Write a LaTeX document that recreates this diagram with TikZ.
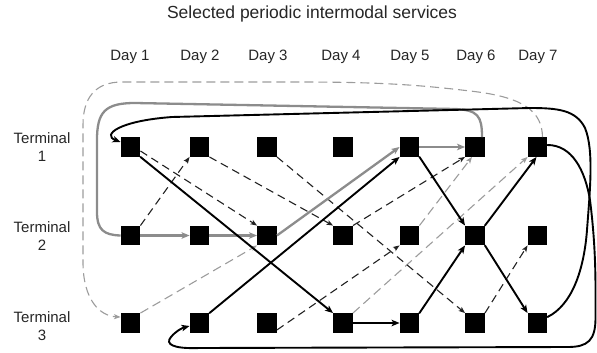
\documentclass[tikz,border=0pt]{standalone}
\usepackage{fontspec}
\setmainfont{Liberation Sans}
\usetikzlibrary{arrows.meta}

\definecolor{solidgray}{HTML}{8C8C8C}
\definecolor{dashgray}{HTML}{9C9C9C}
\definecolor{dashdark}{HTML}{222222}

\tikzset{
  slot/.style={fill=black, draw=none, minimum size=19.5pt, inner sep=0pt},
  lbl/.style={font=\fontsize{15}{18}\selectfont, text=black!85, align=center, inner sep=0pt},
  ttl/.style={font=\fontsize{17.5}{20}\selectfont, text=black!85, inner sep=0pt},
  bigtip/.style={-{Stealth[length=8pt,width=6.5pt,inset=2pt]}},
  smalltip/.style={-{Stealth[length=6.5pt,width=5pt,inset=1.5pt]}},
  blackline/.style={draw=black, line width=1.9pt, line cap=round},
  grayline/.style={draw=solidgray, line width=2.3pt},
  darkdash/.style={draw=dashdark, line width=1.1pt, dash pattern=on 8pt off 5pt},
  graydash/.style={draw=dashgray, line width=1.1pt, dash pattern=on 9pt off 5pt},
}

\begin{document}
\begin{tikzpicture}[x=1pt, y=-1pt]
\useasboundingbox (0,0) rectangle (597,353);

% title and axis labels
\node[ttl] (title) at (312,14) {Selected periodic intermodal services};
\foreach \d/\x in {1/130, 2/200, 3/268, 4/341, 5/410, 6/476, 7/538}
  \node[lbl] (day\d) at (\x,57) {Day \d};
\foreach \r/\y in {1/147, 2/236, 3/326}
  \node[lbl] (term\r) at (42,\y) {Terminal\\\r};

% time-space grid of terminal slots
\foreach \r/\y in {1/147, 2/235.5, 3/323}
  \foreach \c/\x in {1/130.5, 2/199.5, 3/267, 4/343, 5/409.5, 6/475, 7/537.5}
    \node[slot] (t\r-\c) at (\x,\y) {};

% light dashed services
\draw[graydash, smalltip] (t3-1.north east) -- (t2-3.south west);
\draw[graydash, smalltip] (t2-5.north east) -- ([xshift=-3pt]t1-6.south);
\draw[graydash, smalltip] (t3-4.north east) -- (t1-7.south west);
\draw[graydash, smalltip] ([xshift=5pt]t1-7.north)
  .. controls (542,112) and (525,97) .. (470,91)
  .. controls (420,85) and (380,82) .. (300,82)
  -- (122,82)
  .. controls (95,82) and (83,98) .. (83,125)
  -- (83,262)
  .. controls (83,300) and (100,316) .. ([yshift=6pt]t3-1.west);

% dark dashed services
\draw[darkdash, smalltip] (t2-1.north east) -- (t1-2.south west);
\draw[darkdash, smalltip] ([yshift=-4pt]t1-1.east) -- (t2-3.north west);
\draw[darkdash, smalltip] (t1-2.south east) -- (t2-4.north west);
\draw[darkdash, smalltip] (t1-3.south east) -- (t3-6.north west);
\draw[darkdash, smalltip] (t2-4.north east) -- (t1-6.south west);
\draw[darkdash, smalltip] ([yshift=3pt]t3-3.south east) -- (t2-5.south west);
\draw[darkdash, smalltip] (t3-6.north east) -- (t2-7.south west);

% gray solid service chain
\draw[grayline, bigtip] (t2-1) -- (t2-2);
\draw[grayline, bigtip] (t2-2) -- (t2-3);
\draw[grayline, bigtip] (t2-3.east) -- (t1-5.west);
\draw[grayline, bigtip] (t1-5) -- (t1-6);
\draw[grayline] ([xshift=7pt]t1-6.north)
  .. controls (482,116) and (478,110) .. (455,109)
  -- (135,103)
  .. controls (105,103) and (97,112) .. (97,140)
  -- (97,212)
  .. controls (97,230) and (104,235) .. (t2-1.west);

% black solid service chain
\draw[blackline, bigtip] (t1-1.south east) -- (t3-4.north west);
\draw[blackline, bigtip] (t3-2.north east) -- (t1-5.south west);
\draw[blackline, bigtip] (t3-4) -- (t3-5);
\draw[blackline, bigtip] (t3-5.north east) -- (t2-6.south west);
\draw[blackline, bigtip] (t1-5.south east) -- (t2-6.north west);
\draw[blackline, bigtip] (t2-6.north east) -- ([xshift=-1pt]t1-7.south);
\draw[blackline, bigtip] (t2-6.south east) -- (t3-7.north west);

% wrap-around from day 7 back to day 1 (terminal 3 to terminal 1)
\draw[blackline, bigtip] ([yshift=6pt]t3-7.east)
  .. controls (572,305) and (584,270) .. (587,230)
  .. controls (590,190) and (594,150) .. (585,128)
  .. controls (576,110) and (558,108) .. (530,108)
  -- (172,117)
  .. controls (118,121) and (102,135) .. ([yshift=5pt]t1-1.west);

% wrap-around from day 7 back to day 2 (terminal 1 to terminal 3)
\draw[blackline, bigtip] ([yshift=2pt]t1-7.east)
  .. controls (572,145) and (585,170) .. (590,200)
  .. controls (594,232) and (595.5,260) .. (595.5,290)
  -- (595.5,318)
  .. controls (595.5,340) and (588,347) .. (568,347)
  -- (200,348)
  .. controls (172,349) and (165,344) .. (171,337)
  .. controls (176,331) and (182,328) .. ([yshift=-3pt]t3-2.west);

\end{tikzpicture}
\end{document}
